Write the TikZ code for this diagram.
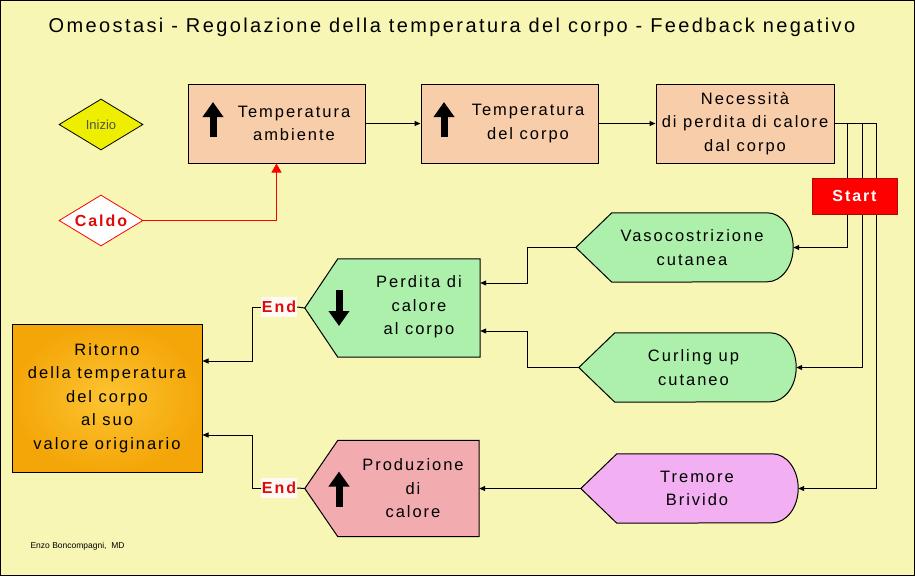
\documentclass[tikz,border=0pt]{standalone}
\usepackage{fontspec}
\setmainfont{Liberation Sans}
\newfontfamily\spaced{Liberation Sans}[LetterSpace=12]
\usetikzlibrary{arrows.meta,positioning,shapes.geometric}
\definecolor{PageYellow}{RGB}{248,246,180}
\definecolor{Peach}{RGB}{248,205,170}
\definecolor{MintGreen}{RGB}{172,240,172}
\definecolor{RosePink}{RGB}{242,172,176}
\definecolor{Lilac}{RGB}{242,176,242}
\definecolor{Amber}{RGB}{244,166,8}
\definecolor{AmberLight}{RGB}{252,196,50}
\definecolor{Lemon}{RGB}{238,238,0}
\definecolor{TagRed}{RGB}{222,10,10}
\definecolor{Muted}{RGB}{80,80,80}
\tikzset{
  tbox/.style={draw, line width=1pt, fill=Peach, minimum width=177pt, minimum height=79pt, inner sep=0pt},
  ghost/.style={minimum width=217pt, minimum height=69pt, inner sep=0pt},
  outline/.style={draw, line width=1pt},
  lbl/.style={align=center, inner sep=0pt, font=\spaced\fontsize{16.5}{23.5}\selectfont},
  rbox/.style={lbl, draw, line width=1pt, inner color=AmberLight, outer color=Amber,
    minimum width=190pt, minimum height=148pt},
  dia/.style={diamond, draw, line width=0.8pt, aspect=1.65, inner sep=0pt,
    minimum width=84pt, minimum height=51pt},
  endtag/.style={fill={rgb,255:red,255;green,250;blue,245}, text=TagRed, inner sep=0pt,
    minimum width=36pt, minimum height=20pt, font=\spaced\bfseries\fontsize{16}{18}\selectfont},
  starttag/.style={draw=TagRed!80!black, line width=0.8pt, fill=red, text=white, inner sep=0pt,
    minimum width=85pt, minimum height=36pt, font=\spaced\bfseries\fontsize{16}{18}\selectfont},
  blk/.style={line width=7pt, -{Triangle[length=15pt,width=20pt]}},
  flowarr/.style={line width=1pt, -{Triangle[length=6pt,width=5pt]}},
  redarr/.style={line width=1pt, draw=red, -{Triangle[length=9pt,width=10pt]}},
  wire/.style={line width=1pt},
}
\begin{document}
\begin{tikzpicture}[x=1pt,y=-1pt]
\useasboundingbox (0,0) rectangle (915,576);
\draw[line width=1pt, fill=PageYellow] (0.5,0.5) rectangle (914.5,575.5);

\node[font=\spaced\fontsize{20}{24}\selectfont] (title) at (452,27)
  {Omeostasi - Regolazione della temperatura del corpo - Feedback negativo};

% ---------------- top row ----------------
\node[dia, fill=Lemon, text=Muted, font=\fontsize{13}{15}\selectfont] (inizio) at (101,124.5) {Inizio};
\node[dia, fill=white, draw=red, text=TagRed, font=\spaced\bfseries\fontsize{16}{18}\selectfont] (caldo) at (101,220.5) {Caldo};

\node[tbox] (t1) at (276.5,123.5) {};
\node[tbox, right=55pt of t1] (t2) {};
\node[tbox, lbl, right=57pt of t2, minimum width=178pt] (nec) {Necessità\\di perdita di calore\\dal corpo};

\node[lbl] (t1txt) at ([xshift=17.5pt]t1.center) {Temperatura\\ambiente};
\node[lbl] (t2txt) at ([xshift=18.5pt]t2.center) {Temperatura\\del corpo};
\draw[blk] ([xshift=-63.5pt,yshift=-13.5pt]t1.center) -- ([xshift=-63.5pt,yshift=21.5pt]t1.center);
\draw[blk] ([xshift=-65.5pt,yshift=-13.5pt]t2.center) -- ([xshift=-65.5pt,yshift=21.5pt]t2.center);

\draw[flowarr] (t1.east) -- (t2.west);
\draw[flowarr] (t2.east) -- (nec.west);
\draw[redarr] (caldo.east) -| (t1.south);

% ---------------- responses ----------------
\node[ghost] (vaso) at (684.5,247.5) {};
\node[ghost] (curl) at (687.5,367.5) {};
\node[ghost] (trem) at (689.5,488.5) {};
\node[ghost, minimum width=175pt, minimum height=98pt] (perd) at (392.5,308) {};
\node[ghost, minimum width=174pt, minimum height=96pt] (prod) at (392,488.5) {};

\foreach \s/\c in {vaso/MintGreen, curl/MintGreen, trem/Lilac}
  \draw[outline, fill=\c] (\s.west) -- ([xshift=36pt]\s.north west) -- ([xshift=-26pt]\s.north east)
    arc[start angle=90, end angle=-90, x radius=26pt, y radius=34.5pt]
    -- ([xshift=36pt]\s.south west) -- cycle;
\foreach \s/\c in {perd/MintGreen, prod/RosePink}
  \draw[outline, fill=\c] (\s.west) -- ([xshift=33pt]\s.north west) -- (\s.north east)
    -- (\s.south east) -- ([xshift=33pt]\s.south west) -- cycle;

\node[lbl] (vasotxt) at ([xshift=7.5pt]vaso.center) {Vasocostrizione\\cutanea};
\node[lbl] (curltxt) at ([xshift=6pt]curl.center) {Curling up\\cutaneo};
\node[lbl] (tremtxt) at ([xshift=7.5pt]trem.center) {Tremore\\Brivido};
\node[lbl] (perdtxt) at ([xshift=26.5pt,yshift=1pt]perd.center) {Perdita di\\calore\\al corpo};
\node[lbl] (prodtxt) at ([xshift=21pt]prod.center) {Produzione\\di\\calore};
\draw[blk] ([xshift=-53.5pt,yshift=18pt]perd.center) -- ([xshift=-53.5pt,yshift=-18pt]perd.center);
\draw[blk] ([xshift=-53pt,yshift=-18pt]prod.center) -- ([xshift=-53pt,yshift=17pt]prod.center);

% three branches leave the need box, the Start tag sits on top of them
\draw[flowarr] (nec.east) -- ++(13,0) |- (vaso.east);
\draw[flowarr] (nec.east) -- ++(28,0) |- (curl.east);
\draw[flowarr] (nec.east) -- ++(42,0) |- (trem.east);
\node[starttag] (start) at (854.5,196) {Start};

\draw[flowarr] (vaso.west) -- ++(-48,0) |- ([yshift=25pt]perd.east);
\draw[flowarr] (curl.west) -- ++(-51,0) |- ([yshift=-23pt]perd.east);
\draw[flowarr] (trem.west) -- (prod.east);

% ---------------- back to the set point ----------------
\node[rbox] (rit) at (107,398) {Ritorno\\della temperatura\\del corpo\\al suo\\valore originario};
\node[endtag] (end1) at (279,307) {End};
\node[endtag] (end2) at (279,488) {End};

\draw[wire] (perd.west) -- (end1.east);
\draw[wire] (prod.west) -- (end2.east);
\draw[flowarr] (end1.west) -- ++(-8,0) |- ([yshift=37pt]rit.east);
\draw[flowarr] (end2.west) -- ++(-8,0) |- ([yshift=-37pt]rit.east);

\node[anchor=west, font=\fontsize{8.5}{10}\selectfont] (credit) at (27,546) {Enzo Boncompagni,\ \ MD};
\end{tikzpicture}
\end{document}
